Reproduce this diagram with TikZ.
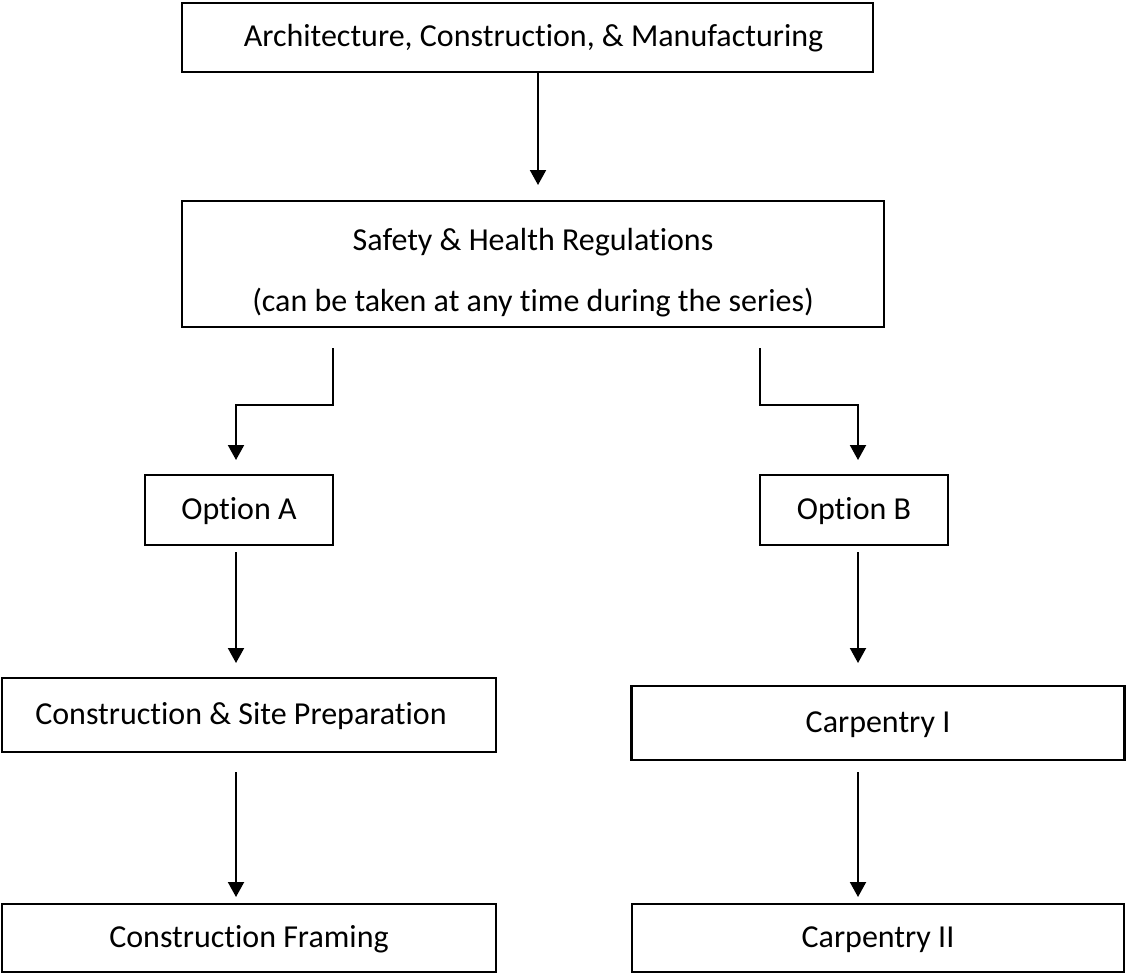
\documentclass[tikz,border=0pt]{standalone}
\usepackage{fontspec}
\setmainfont{Carlito}[Ligatures=NoCommon]
\usetikzlibrary{arrows.meta}
\begin{document}
\begin{tikzpicture}[x=1pt,y=-1pt,
  boxnode/.style={draw=black, line width=2.7pt, inner sep=0pt, align=center,
    font=\fontsize{32}{38}\selectfont, text height=24pt, text depth=6pt},
  txt/.style={inner sep=0pt, anchor=base, font=\fontsize{32}{38}\selectfont},
  arr/.style={line width=2pt, -{Triangle[width=16pt,length=15pt]}}]
\useasboundingbox (0,0) rectangle (1126,974);
% boxes
\node[boxnode, minimum width=691pt, minimum height=69pt] (top) at (527.5,37.5) {\hspace*{12pt}Architecture, Construction, \& Manufacturing};
\node[boxnode, minimum width=702pt, minimum height=126pt] (safety) at (533,264) {};
\node[txt] (sh1) at (533,250) {Safety \& Health Regulations};
\node[txt] (sh2) at (533,311) {(can be taken at any time during the series)};
\node[boxnode, minimum width=188pt, minimum height=70pt] (optA) at (239,510) {Option A};
\node[boxnode, minimum width=188pt, minimum height=70pt] (optB) at (854,510) {Option B};
\node[boxnode, minimum width=494pt, minimum height=74pt] (csp) at (249,715) {Construction \& Site Preparation\hspace*{16pt}};
\node[boxnode, minimum width=493pt, minimum height=74pt] (carp1) at (878,723) {Carpentry I};
\node[boxnode, minimum width=494pt, minimum height=68pt] (frame) at (249,938) {Construction Framing};
\node[boxnode, minimum width=492pt, minimum height=68pt] (carp2) at (878,938) {Carpentry II};
% connector coordinates
\coordinate (t1) at (538,185);
\coordinate (lA0) at (333,348);
\coordinate (lA1) at (333,405);
\coordinate (lA2) at (236,405);
\coordinate (tA) at (236,460);
\coordinate (lB0) at (760,348);
\coordinate (lB1) at (760,405);
\coordinate (lB2) at (858,405);
\coordinate (tB) at (858,460);
\coordinate (tcsp) at (236,663);
\coordinate (tc1) at (858,663);
\coordinate (sA) at (236,552);
\coordinate (sB) at (858,552);
\coordinate (sL) at (236,772);
\coordinate (sR) at (858,772);
\coordinate (tfr) at (236,897);
\coordinate (tc2) at (858,897);
% connectors
\draw[arr] (top.south -| t1) -- (t1);
\draw[arr] (lA0) -- (lA1) -- (lA2) -- (tA);
\draw[arr] (lB0) -- (lB1) -- (lB2) -- (tB);
\draw[arr] (sA) -- (tcsp);
\draw[arr] (sB) -- (tc1);
\draw[arr] (sL) -- (tfr);
\draw[arr] (sR) -- (tc2);
\end{tikzpicture}
\end{document}
